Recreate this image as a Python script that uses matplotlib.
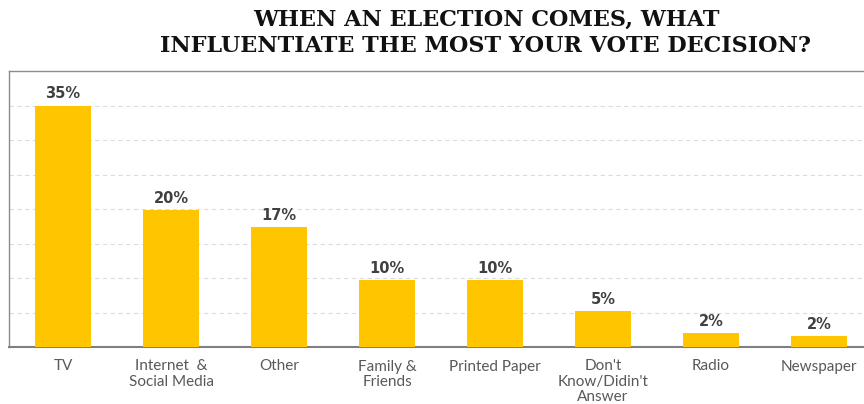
import matplotlib
matplotlib.use("Agg")
import matplotlib.pyplot as plt

categories = ["TV", "Internet  &\nSocial Media", "Other", "Family &\nFriends",
              "Printed Paper", "Don't\nKnow/Didin't\nAnswer", "Radio", "Newspaper"]
shares = [35, 19.8, 17.4, 9.7, 9.7, 5.2, 2.0, 1.6]
title_lines = ["WHEN AN ELECTION COMES, WHAT", "INFLUENTIATE THE MOST YOUR VOTE DECISION?"]

bar_color = "#FFC600"
label_color = "#404040"
tick_color = "#595959"

fig = plt.figure(figsize=(8.64, 4.04), dpi=100)
ax = fig.add_axes([9 / 864, 57 / 404, 864 / 864, 276 / 404])

x = range(len(categories))
bars = ax.bar(x, shares, width=0.52, color=bar_color, zorder=3)

for xi, v in zip(x, shares):
    ax.annotate(f"{v:.0f}%", (xi, v), xytext=(0, 3), textcoords="offset points",
                ha="center", va="bottom", fontsize=10.5, fontweight="bold",
                color=label_color, family="DejaVu Sans", zorder=4)

ax.set_xlim(-0.5, len(categories) - 0.5)
ax.set_ylim(0, 40)
ax.set_yticks(range(5, 40, 5))
ax.yaxis.grid(True, linestyle=(0, (4, 3)), color="#dcdcdc", linewidth=0.8, zorder=0)
ax.tick_params(axis="y", left=False, labelleft=False)
ax.tick_params(axis="x", bottom=False, pad=5.5)
ax.set_xticks(list(x))
ax.set_xticklabels(categories, fontsize=11, color=tick_color, family="Lato",
                   linespacing=1.1, va="top")

for side in ("left", "top", "right"):
    ax.spines[side].set_color("#8c8c8c")
    ax.spines[side].set_linewidth(1.0)
ax.spines["bottom"].set_color("#7f7f7f")
ax.spines["bottom"].set_linewidth(1.5)

fig.text(0.5625, 1 - 26 / 404, title_lines[0], ha="center", va="baseline",
         fontsize=16, fontweight="bold", family="DejaVu Serif", color="#111111")
fig.text(0.5625, 1 - 52 / 404, title_lines[1], ha="center", va="baseline",
         fontsize=16, fontweight="bold", family="DejaVu Serif", color="#111111")

fig.savefig("out.png", dpi=100)
